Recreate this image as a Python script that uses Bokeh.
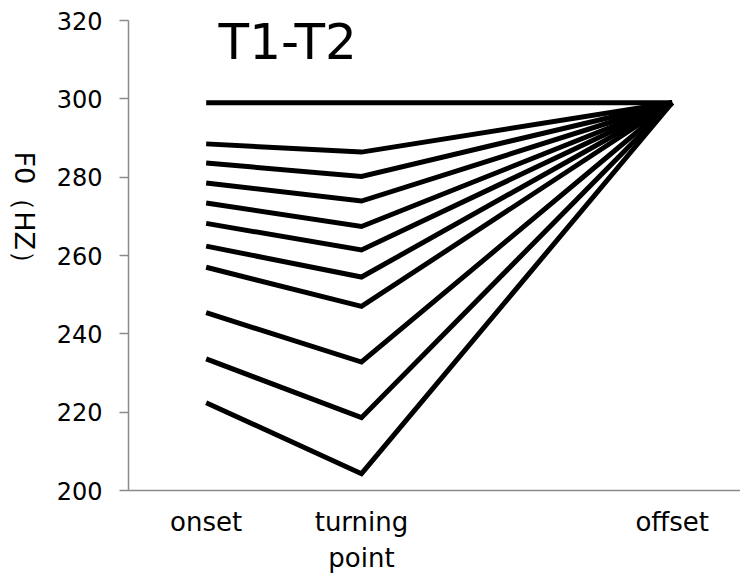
import math

from bokeh.plotting import figure
from bokeh.layouts import row
from bokeh.models import FixedTicker, Label, Range1d
from bokeh.embed import file_html
from bokeh.resources import INLINE

# Positions of the three measurement points along the contour
point_names = ["onset", "turning\npoint", "offset"]
point_pos = [0, 1, 3]

# F0 (Hz) at onset / turning point / offset, one contour per row
onset_hz = [299.0, 288.5, 283.6, 278.5, 273.4, 268.2, 262.4, 257.0, 245.4, 233.6, 222.4]
turning_hz = [299.0, 286.4, 280.2, 273.9, 267.4, 261.4, 254.5, 247.0, 232.8, 218.6, 204.3]
offset_hz = [299.0] * 11

y_ticks = [200, 220, 240, 260, 280, 300, 320]

FONT = "DejaVu Sans"
LABEL_W = 40

p = figure(
    width=740 - LABEL_W, height=575,
    x_range=Range1d(-0.5, 3.44), y_range=Range1d(200, 320),
    output_backend="svg", toolbar_location=None,
    min_border_left=128 - LABEL_W, min_border_right=0,
    min_border_top=20, min_border_bottom=85,
)
p.outline_line_color = None
p.xgrid.grid_line_color = None
p.ygrid.grid_line_color = None

for a, b, c in zip(onset_hz, turning_hz, offset_hz):
    p.line(point_pos, [a, b, c], line_color="black", line_width=5,
           line_join="miter", line_cap="butt")

axis_color = "#8a8a8a"

p.yaxis.ticker = FixedTicker(ticks=y_ticks)
p.yaxis.minor_tick_line_color = None
p.yaxis.major_tick_in = 0
p.yaxis.major_tick_out = 9
p.yaxis.axis_line_color = axis_color
p.yaxis.major_tick_line_color = axis_color
p.yaxis.axis_line_width = 1.5
p.yaxis.major_tick_line_width = 1.5
p.yaxis.major_label_text_font = FONT
p.yaxis.major_label_text_font_size = "24px"
p.yaxis.major_label_text_color = "black"
p.yaxis.major_label_standoff = 17

p.xaxis.ticker = FixedTicker(ticks=point_pos)
p.xaxis.major_label_overrides = {pos: name for pos, name in zip(point_pos, point_names)}
p.xaxis.minor_tick_line_color = None
p.xaxis.major_tick_line_color = None
p.xaxis.major_tick_in = 0
p.xaxis.major_tick_out = 0
p.xaxis.axis_line_color = axis_color
p.xaxis.axis_line_width = 1.5
p.xaxis.major_label_text_font = FONT
p.xaxis.major_label_text_font_size = "26px"
p.xaxis.major_label_text_color = "black"
p.xaxis.major_label_standoff = 16

# chart heading inside the plot area
p.add_layout(Label(x=0.08, y=314.4, text="T1-T2", text_font=FONT,
                   text_font_size="50px", text_color="black",
                   text_align="left", text_baseline="alphabetic"))

# narrow strip on the left that carries the vertical axis title (top-to-bottom)
strip = figure(
    width=LABEL_W, height=575,
    x_range=Range1d(0, LABEL_W), y_range=Range1d(0, 575),
    x_axis_type=None, y_axis_type=None,
    output_backend="svg", toolbar_location=None,
    min_border=0,
)
strip.outline_line_color = None
strip.grid.visible = False
strip.add_layout(Label(x=24, y=338, text="F0（HZ）", text_font=FONT,
                       text_font_size="27px", text_color="black",
                       angle=-math.pi / 2, text_align="center",
                       text_baseline="middle"))

layout = row(strip, p)
open("out.html", "w").write(file_html(layout, INLINE))
